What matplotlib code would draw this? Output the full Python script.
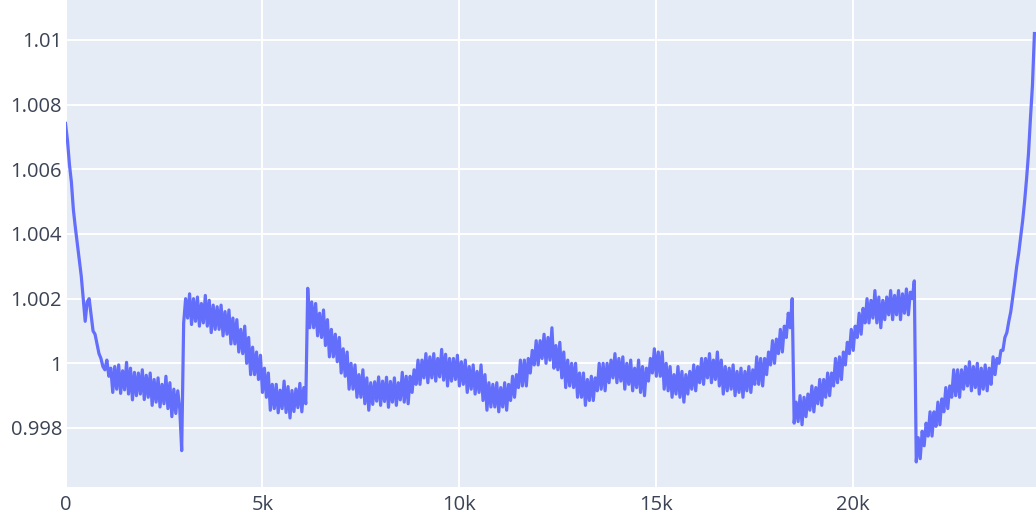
import numpy as np
import matplotlib
matplotlib.use("Agg")
import matplotlib.pyplot as plt

# sample index step between read-off points (troughs and peaks of the noisy trace)
step = 50

values = [
    1.00742, 1.00690, 1.00615, 1.00560, 1.00475, 1.00420, 1.00371, 1.00320, 1.00270, 1.00200,
    1.00130, 1.00190, 1.00200, 1.00150, 1.00100, 1.00090, 1.00060, 1.00030, 1.00015, 0.99990,
    0.99980, 1.00010, 0.99960, 0.99985, 0.99910, 0.99990, 0.99920, 0.99995, 0.99907, 0.99977,
    0.99918, 1.00003, 0.99905, 0.99985, 0.99887, 0.99972, 0.99900, 0.99970, 0.99905, 0.99980,
    0.99888, 0.99963, 0.99895, 0.99970, 0.99870, 0.99950, 0.99880, 0.99955, 0.99865, 0.99935,
    0.99875, 0.99960, 0.99860, 0.99940, 0.99835, 0.99920, 0.99845, 0.99915, 0.99860, 0.99730,
    1.00125, 1.00200, 1.00140, 1.00215, 1.00120, 1.00200, 1.00130, 1.00205, 1.00115, 1.00185,
    1.00125, 1.00210, 1.00115, 1.00195, 1.00095, 1.00180, 1.00105, 1.00175, 1.00105, 1.00180,
    1.00085, 1.00160, 1.00090, 1.00165, 1.00060, 1.00140, 1.00060, 1.00135, 1.00035, 1.00105,
    1.00030, 1.00115, 1.00000, 1.00080, 0.99965, 1.00050, 0.99965, 1.00035, 0.99950, 1.00025,
    0.99910, 0.99985, 0.99895, 0.99970, 0.99855, 0.99935, 0.99860, 0.99935, 0.99847, 0.99917,
    0.99860, 0.99945, 0.99848, 0.99928, 0.99831, 0.99916, 0.99851, 0.99921, 0.99863, 0.99938,
    0.99850, 0.99925, 0.99875, 1.00232, 1.00110, 1.00190, 1.00110, 1.00185, 1.00085, 1.00155,
    1.00080, 1.00165, 1.00055, 1.00135, 1.00020, 1.00105, 1.00020, 1.00090, 1.00005, 1.00080,
    0.99970, 1.00045, 0.99960, 1.00035, 0.99920, 1.00000, 0.99920, 0.99995, 0.99895, 0.99965,
    0.99895, 0.99980, 0.99875, 0.99955, 0.99855, 0.99940, 0.99873, 0.99943, 0.99883, 0.99958,
    0.99870, 0.99945, 0.99882, 0.99957, 0.99864, 0.99944, 0.99880, 0.99955, 0.99870, 0.99940,
    0.99887, 0.99972, 0.99880, 0.99960, 0.99875, 0.99960, 0.99910, 0.99980, 0.99935, 1.00010,
    0.99935, 1.00010, 0.99955, 1.00030, 0.99940, 1.00020, 0.99955, 1.00030, 0.99945, 1.00015,
    0.99958, 1.00043, 0.99948, 1.00028, 0.99930, 1.00015, 0.99945, 1.00015, 0.99950, 1.00025,
    0.99930, 1.00005, 0.99935, 1.00010, 0.99910, 0.99990, 0.99920, 0.99995, 0.99905, 0.99975,
    0.99910, 0.99995, 0.99885, 0.99965, 0.99855, 0.99940, 0.99865, 0.99935, 0.99865, 0.99940,
    0.99850, 0.99925, 0.99865, 0.99940, 0.99855, 0.99935, 0.99885, 0.99960, 0.99895, 0.99965,
    0.99925, 1.00010, 0.99930, 1.00010, 0.99930, 1.00015, 0.99970, 1.00040, 0.99995, 1.00070,
    0.99995, 1.00070, 1.00015, 1.00090, 1.00000, 1.00080, 1.00010, 1.00110, 0.99985, 1.00055,
    0.99980, 1.00065, 0.99955, 1.00035, 0.99925, 1.00010, 0.99930, 1.00000, 0.99925, 1.00000,
    0.99895, 0.99970, 0.99895, 0.99970, 0.99870, 0.99950, 0.99885, 0.99960, 0.99885, 0.99955,
    0.99915, 1.00000, 0.99920, 1.00000, 0.99915, 1.00000, 0.99940, 1.00010, 0.99955, 1.00030,
    0.99940, 1.00015, 0.99945, 1.00020, 0.99920, 1.00000, 0.99935, 1.00010, 0.99915, 0.99985,
    0.99925, 1.00010, 0.99910, 0.99990, 0.99900, 0.99985, 0.99945, 1.00015, 0.99970, 1.00045,
    0.99960, 1.00035, 0.99960, 1.00035, 0.99920, 1.00000, 0.99915, 0.99990, 0.99895, 0.99965,
    0.99905, 0.99990, 0.99895, 0.99975, 0.99880, 0.99965, 0.99905, 0.99975, 0.99920, 0.99995,
    0.99915, 0.99990, 0.99940, 1.00015, 0.99935, 1.00015, 0.99955, 1.00030, 0.99940, 1.00010,
    0.99950, 1.00035, 0.99930, 1.00010, 0.99905, 0.99990, 0.99915, 0.99985, 0.99920, 0.99995,
    0.99900, 0.99975, 0.99910, 0.99985, 0.99895, 0.99975, 0.99915, 0.99990, 0.99910, 0.99980,
    0.99935, 1.00020, 0.99935, 1.00015, 0.99930, 1.00015, 0.99965, 1.00035, 0.99995, 1.00070,
    1.00000, 1.00075, 1.00030, 1.00105, 1.00035, 1.00115, 1.00080, 1.00155, 1.00110, 1.00200,
    0.99815, 0.99880, 0.99820, 0.99900, 0.99810, 0.99895, 0.99835, 0.99905, 0.99855, 0.99930,
    0.99850, 0.99925, 0.99875, 0.99950, 0.99870, 0.99950, 0.99895, 0.99970, 0.99900, 0.99970,
    0.99930, 1.00015, 0.99940, 1.00020, 0.99950, 1.00035, 0.99995, 1.00065, 1.00030, 1.00105,
    1.00040, 1.00115, 1.00080, 1.00155, 1.00090, 1.00170, 1.00125, 1.00200, 1.00125, 1.00195,
    1.00140, 1.00225, 1.00125, 1.00205, 1.00110, 1.00195, 1.00135, 1.00205, 1.00150, 1.00225,
    1.00135, 1.00210, 1.00150, 1.00225, 1.00135, 1.00215, 1.00155, 1.00230, 1.00150, 1.00220,
    1.00200, 1.00255, 0.99695, 0.99770, 0.99705, 0.99790, 0.99745, 0.99815, 0.99775, 0.99850,
    0.99775, 0.99850, 0.99805, 0.99880, 0.99810, 0.99890, 0.99850, 0.99925, 0.99860, 0.99930,
    0.99895, 0.99980, 0.99900, 0.99980, 0.99895, 0.99980, 0.99920, 0.99990, 0.99930, 1.00005,
    0.99915, 0.99990, 0.99925, 1.00000, 0.99905, 0.99985, 0.99920, 0.99995, 0.99915, 0.99985,
    0.99935, 1.00020, 0.99965, 1.00015, 1.00000, 1.00040, 1.00040, 1.00080, 1.00095, 1.00130,
    1.00160, 1.00205, 1.00250, 1.00300, 1.00340, 1.00390, 1.00440, 1.00500, 1.00570, 1.00650,
    1.00760, 1.00860, 1.01020,
]
index = np.arange(len(values)) * step

x_ticks = [0, 5000, 10000, 15000, 20000]
x_tick_labels = ["0", "5k", "10k", "15k", "20k"]
y_ticks = [0.998, 1.0, 1.002, 1.004, 1.006, 1.008, 1.01]
y_tick_labels = ["0.998", "1", "1.002", "1.004", "1.006", "1.008", "1.01"]

W, H = 1036, 519
fig = plt.figure(figsize=(W / 100, H / 100), dpi=100)
fig.patch.set_facecolor("white")
ax = fig.add_axes([65.5 / W, 32 / H, (W - 65.5) / W, 487 / H])
ax.set_facecolor("#E5ECF6")

ax.plot(index, values, color="#636EFA", lw=2.3, solid_joinstyle="round")

ax.set_xlim(0, 24640)
ax.set_ylim(0.996175, 1.011237)
ax.set_xticks(x_ticks)
ax.set_xticklabels(x_tick_labels)
ax.set_yticks(y_ticks)
ax.set_yticklabels(y_tick_labels)
ax.grid(True, color="white", lw=1.4)
ax.set_axisbelow(True)
for s in ax.spines.values():
    s.set_visible(False)
ax.tick_params(length=0, labelsize=14.5, labelcolor="#3b4354", pad=2.5)
for lab in ax.get_xticklabels() + ax.get_yticklabels():
    lab.set_fontfamily("Open Sans")
ax.tick_params(axis="x", pad=6)

fig.savefig("out.png", dpi=100, facecolor="white")
